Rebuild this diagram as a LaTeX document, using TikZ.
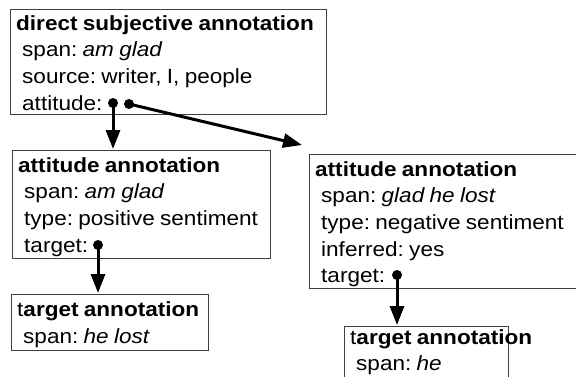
\documentclass[tikz,border=0pt]{standalone}
\usepackage{fontspec}
\setmainfont{Liberation Sans}[FakeStretch=1.1, WordSpace=0.85]
\usetikzlibrary{arrows.meta}
\tikzset{
 box/.style={draw=black!75, line width=0.9pt, anchor=north west, inner sep=0pt, rectangle},
 txt/.style={anchor=base west, inner sep=0pt, font=\fontsize{20.5}{26.7}\selectfont\frenchspacing},
 dot/.style={circle, fill=black, inner sep=0pt, minimum size=10pt},
 link/.style={line width=3pt, -{Triangle[length=19pt,width=14pt]}},
}
\newcommand\ind{\hspace*{6pt}}
\begin{document}
\begin{tikzpicture}[x=1pt,y=-1pt]
\clip (0,0) rectangle (576,376);
% boxes
\node[box, minimum width=316pt, minimum height=105pt] (b1) at (10,9) {};
\node[box, minimum width=258pt, minimum height=108pt] (b2) at (12,150) {};
\node[box, minimum width=197pt, minimum height=56pt] (b3) at (11,294) {};
\node[box, minimum width=290pt, minimum height=134pt] (b4) at (309,154) {};
\node[box, minimum width=164pt, minimum height=80pt] (b5) at (344,326) {};
% texts
\node[txt] (t1) at (16,30) {\begin{tabular}[t]{@{}l@{}}\textbf{direct subjective annotation}\\
 \ind span: \textit{am glad}\\ \ind source: writer, I, people\\ \ind attitude:\end{tabular}};
\node[txt] (t2) at (18,172) {\begin{tabular}[t]{@{}l@{}}\textbf{attitude annotation}\\
 \ind span: \textit{am glad}\\ \ind type: positive sentiment\\ \ind target:\end{tabular}};
\node[txt] (t3) at (17,316.5) {\begin{tabular}[t]{@{}l@{}}t\textbf{arget annotation}\\
 \ind span: \textit{he lost}\end{tabular}};
\node[txt] (t4) at (315,176) {\begin{tabular}[t]{@{}l@{}}\textbf{attitude annotation}\\
 \ind span: \textit{glad he lost}\\ \ind type: negative sentiment\\ \ind inferred: yes\\ \ind target:\end{tabular}};
\node[txt] (t5) at (350,344) {\begin{tabular}[t]{@{}l@{}}t\textbf{arget annotation}\\
 \ind span: \textit{he}\end{tabular}};
% dots
\node[dot] (d1) at (113,103) {};
\node[dot] (d2) at (129,104) {};
\node[dot] (d3) at (98,245) {};
\node[dot] (d4) at (397,275) {};
% arrow ends
\coordinate (e1) at (113,149);
\coordinate (e2) at (302,145);
\coordinate (e3) at (98,293);
\coordinate (e4) at (397,325);
\draw[link] (d1.center) -- (e1);
\draw[link] (d2.center) -- (e2);
\draw[link] (d3.center) -- (e3);
\draw[link] (d4.center) -- (e4);
\end{tikzpicture}
\end{document}
